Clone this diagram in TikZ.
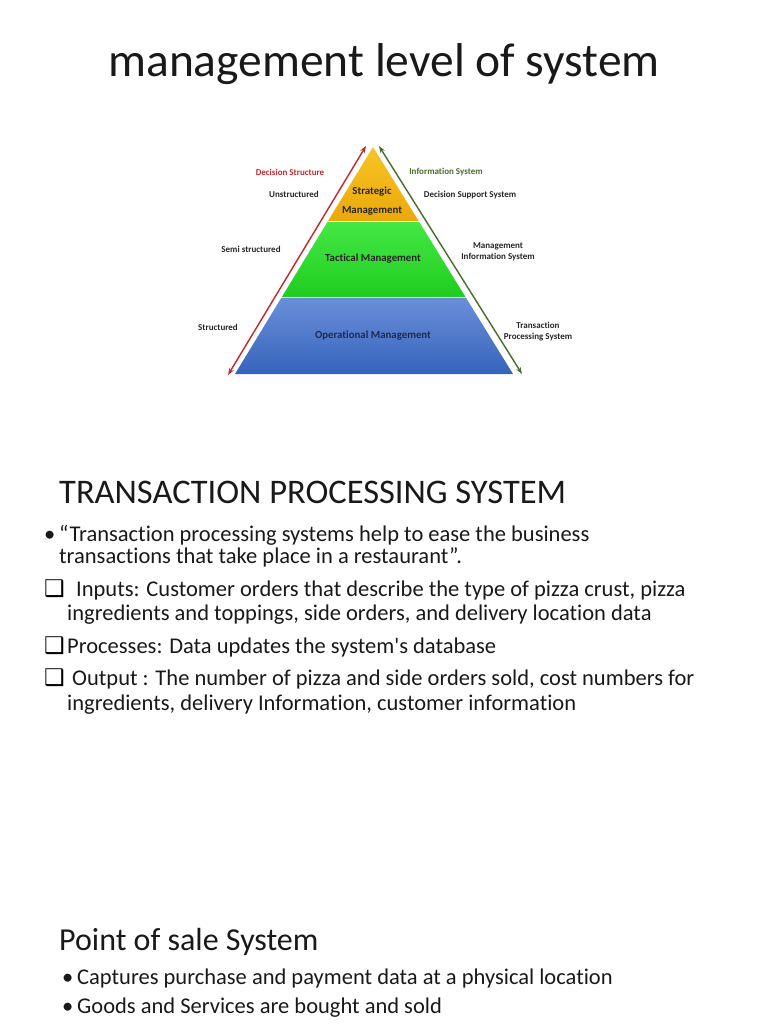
\documentclass[tikz,border=0pt]{standalone}
\usepackage{fontspec}
\setmainfont{Carlito}[Ligatures=NoCommon]
\newfontfamily\slidefont{Carlito}[Ligatures=NoCommon]
\newfontfamily\symfont{DejaVu Sans}
\usetikzlibrary{arrows.meta,calc}
\definecolor{stratTop}{HTML}{F7C424}
\definecolor{stratBot}{HTML}{EBA80A}
\definecolor{tactTop}{HTML}{45E845}
\definecolor{tactBot}{HTML}{1FCC1F}
\definecolor{operTop}{HTML}{6A8FD8}
\definecolor{operBot}{HTML}{3563BC}
\definecolor{decRed}{HTML}{C0262C}
\definecolor{infoGreen}{HTML}{4A6A2A}
\definecolor{navyText}{HTML}{1F2A55}
\begin{document}
\begin{tikzpicture}[x=1pt,y=-1pt,every node/.style={inner sep=0pt}]
    \tikzset{
      lvl/.style={font=\fontsize{10.8}{19}\selectfont\bfseries,align=center},
      side/.style={font=\fontsize{9}{11}\selectfont\bfseries,align=center,text=black!85},
      body/.style={font=\slidefont\fontsize{22.5}{26}\selectfont,anchor=mid west,text=black!90},
      head/.style={font=\fontsize{34.5}{40}\selectfont,anchor=mid west,text=black!90},
      box/.style={font=\symfont\fontsize{23}{26}\selectfont,anchor=mid west},
      dbl/.style={{Stealth[length=7pt,width=5pt]}-{Stealth[length=7pt,width=5pt]},line width=1.4pt}
    }
    \useasboundingbox (0,0) rectangle (768,1024);

    \node[font=\fontsize{47.5}{54}\selectfont,text=black!90] (title) at (384,64)
      {management level of system};

    \coordinate (apex) at (373,147);
    \coordinate (bl) at (235,374);
    \coordinate (br) at (513,374);
    \coordinate (l1) at ($(apex)!0.33!(bl)$);
    \coordinate (r1) at ($(apex)!0.33!(br)$);
    \coordinate (l2) at ($(apex)!0.665!(bl)$);
    \coordinate (r2) at ($(apex)!0.665!(br)$);
    \shade[top color=stratTop,bottom color=stratBot] (apex) -- (r1) -- (l1) -- cycle;
    \shade[top color=tactTop,bottom color=tactBot] (l1) -- (r1) -- (r2) -- (l2) -- cycle;
    \shade[top color=operTop,bottom color=operBot] (l2) -- (r2) -- (br) -- (bl) -- cycle;
    \draw[white!80!cyan,line width=1pt] (l1) -- (r1) (l2) -- (r2);

    \coordinate (dsTop) at (366,146);
    \coordinate (dsBot) at (228,375);
    \coordinate (isTop) at (379,146);
    \coordinate (isBot) at (522,374);
    \draw[dbl,decRed] (dsBot) -- (dsTop);
    \draw[dbl,infoGreen] (isTop) -- (isBot);

    \node[lvl,text=black!85] (strat) at (372,201) {Strategic\\Management};
    \node[lvl,text=black!85] (tact) at (373,259) {Tactical Management};
    \node[lvl,text=navyText] (oper) at (373,336) {Operational Management};

    \node[side,text=decRed] (decstr) at (290,172) {Decision Structure};
    \node[side] (unstr) at (294,194) {Unstructured};
    \node[side] (semi) at (251,249) {Semi structured};
    \node[side] (struct) at (218,327) {Structured};
    \node[side,text=infoGreen] (infosys) at (446,172) {Information System};
    \node[side] (dss) at (470,195) {Decision Support System};
    \node[side] (mis) at (498,252) {Management\\Information System};
    \node[side] (tps) at (538,332) {Transaction\\Processing System};

    \node[head] (tpshead) at (59,501) {TRANSACTION PROCESSING SYSTEM};
    \node[body] (dot1) at (44,539) {•};
    \node[body] (quote1) at (59,539) {“Transaction processing systems help to ease the business};
    \node[body] (quote2) at (59,561) {transactions that take place in a restaurant”.};
    \node[box] (box1) at (44,594) {❑};
    \node[body] (inp1) at (76,594) {Inputs: Customer orders that describe the type of pizza crust, pizza};
    \node[body] (inp2) at (67,618) {ingredients and toppings, side orders, and delivery location data};
    \node[box] (box2) at (44,651) {❑};
    \node[body] (proc) at (67,651) {Processes: Data updates the system's database};
    \node[box] (box3) at (44,683) {❑};
    \node[body] (out1) at (72,683) {Output : The number of pizza and side orders sold, cost numbers for};
    \node[body] (out2) at (67,708) {ingredients, delivery Information, customer information};

    \node[head,font=\fontsize{32}{38}\selectfont] (poshead) at (59,948) {Point of sale System};
    \node[body] (dot2) at (62,982) {•};
    \node[body] (pos1) at (77,982) {Captures purchase and payment data at a physical location};
    \node[body] (dot3) at (62,1011) {•};
    \node[body] (pos2) at (77,1011) {Goods and Services are bought and sold};
  \end{tikzpicture}
\end{document}
